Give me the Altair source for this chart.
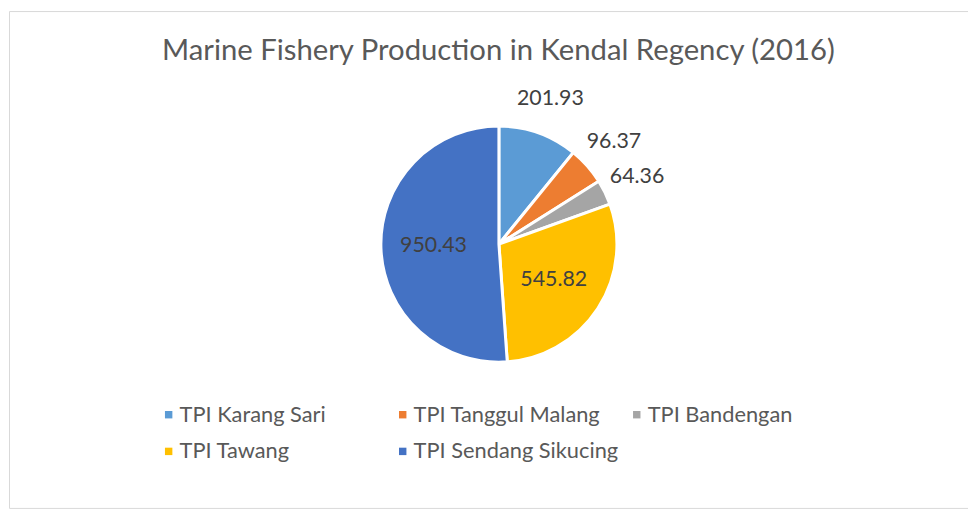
import altair as alt
import pandas as pd

categories = ["TPI Karang Sari", "TPI Tanggul Malang", "TPI Bandengan", "TPI Tawang", "TPI Sendang Sikucing"]
values = [201.93, 96.37, 64.36, 545.82, 950.43]
labels = ["201.93", "96.37", "64.36", "545.82", "950.43"]
colors = ["#5B9BD5", "#ED7D31", "#A5A5A5", "#FFC000", "#4472C4"]

df = pd.DataFrame({"category": categories, "value": values, "label": labels, "order": list(range(len(categories)))})

FONT = "Lato"
CX, CY = 494, 235

color_scale = alt.Scale(domain=categories, range=colors)

arcs = alt.Chart(df).mark_arc(outerRadius=119, stroke="white", strokeWidth=3).encode(
    theta=alt.Theta("value:Q", stack=True),
    order=alt.Order("order:Q", sort="ascending"),
    color=alt.Color(
        "category:N",
        scale=color_scale,
        sort=categories,
        legend=alt.Legend(
            title=None,
            orient="none",
            legendX=150,
            legendY=396,
            columns=3,
            direction="horizontal",
            gridAlign="all",
            columnPadding=7,
            rowPadding=15,
            symbolType="square",
            symbolSize=56,
            symbolStrokeWidth=0,
            labelFont=FONT,
            labelFontSize=22,
            labelColor="#595959",
            labelOffset=0,
            labelLimit=400,
        ),
    ),
    x=alt.value(CX),
    y=alt.value(CY),
)

text = (
    alt.Chart(df)
    .transform_joinaggregate(total="sum(value)")
    .transform_window(cum="sum(value)", sort=[alt.SortField("order", order="ascending")], frame=[None, 0])
    .transform_calculate(
        mid="(datum.cum - datum.value / 2) / datum.total * 2 * PI",
        r="datum.value > 300 ? 66 : 155",
    )
    .mark_text(font=FONT, fontSize=21.5, color="#404040")
    .encode(
        theta=alt.Theta("mid:Q", scale=None, stack=None),
        radius=alt.Radius("r:Q", scale=None),
        text="label:N",
        x=alt.value(CX),
        y=alt.value(CY),
    )
)

chart = (
    alt.layer(arcs, text)
    .resolve_scale(theta="independent")
    .properties(
        width=967,
        height=501,
        padding={"left": 1, "top": 1, "right": 0, "bottom": 0},
        autosize=alt.AutoSizeParams(type="none"),
        title=alt.TitleParams(
            "Marine Fishery Production in Kendal Regency (2016)",
            font=FONT,
            fontSize=29.5,
            fontWeight="normal",
            color="#595959",
            anchor="middle",
            offset=-56,
            dx=10,
        ),
    )
    .configure_view(stroke="#d9d9d9", strokeWidth=1)
)

chart.save("out.html", embed_options={"renderer": "svg", "actions": False})
